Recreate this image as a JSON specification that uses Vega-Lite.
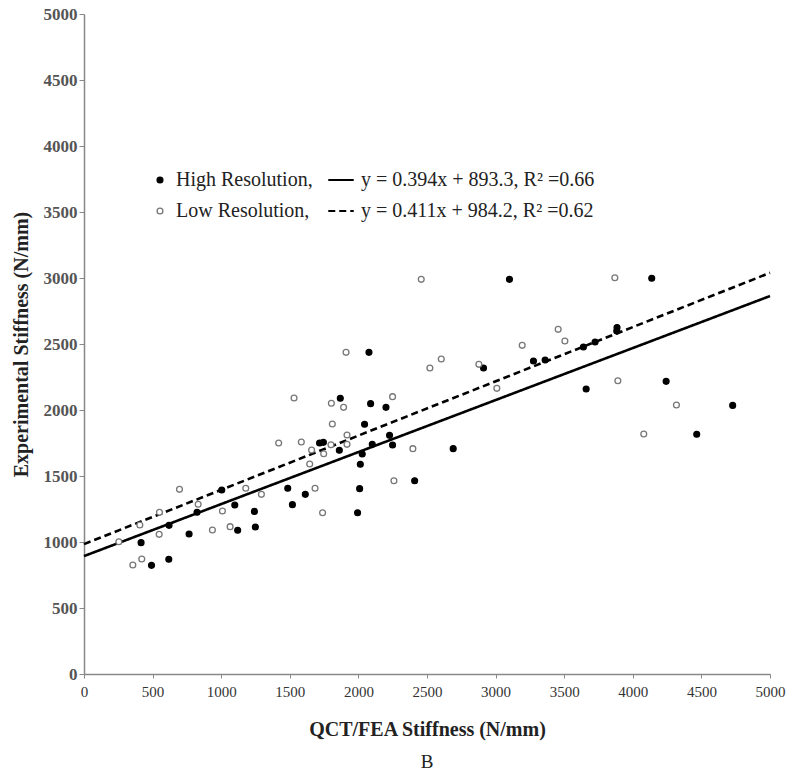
{
  "$schema": "https://vega.github.io/schema/vega-lite/v6.json",
  "width": 686,
  "height": 660,
  "autosize": "none",
  "padding": {"left": 84, "top": 14, "right": 30, "bottom": 104},
  "background": "white",
  "config": {"view": {"stroke": null}, "font": "Liberation Serif"},
  "title": {"text": "B", "orient": "bottom", "anchor": "middle", "font": "Liberation Serif", "fontSize": 19, "fontWeight": "normal", "color": "#222", "offset": 14},
  "datasets": {
    "pts": [
      {"res": "High Resolution,", "qct": 416, "exp": 995},
      {"res": "High Resolution,", "qct": 492, "exp": 823},
      {"res": "High Resolution,", "qct": 618, "exp": 869},
      {"res": "High Resolution,", "qct": 620, "exp": 1126},
      {"res": "High Resolution,", "qct": 766, "exp": 1061},
      {"res": "High Resolution,", "qct": 824, "exp": 1225},
      {"res": "High Resolution,", "qct": 1004, "exp": 1394},
      {"res": "High Resolution,", "qct": 1099, "exp": 1280},
      {"res": "High Resolution,", "qct": 1120, "exp": 1089},
      {"res": "High Resolution,", "qct": 1242, "exp": 1232},
      {"res": "High Resolution,", "qct": 1249, "exp": 1114},
      {"res": "High Resolution,", "qct": 1485, "exp": 1407},
      {"res": "High Resolution,", "qct": 1519, "exp": 1283},
      {"res": "High Resolution,", "qct": 1613, "exp": 1361},
      {"res": "High Resolution,", "qct": 1717, "exp": 1750},
      {"res": "High Resolution,", "qct": 1745, "exp": 1755},
      {"res": "High Resolution,", "qct": 1861, "exp": 1695},
      {"res": "High Resolution,", "qct": 1868, "exp": 2089},
      {"res": "High Resolution,", "qct": 1994, "exp": 1222},
      {"res": "High Resolution,", "qct": 2009, "exp": 1404},
      {"res": "High Resolution,", "qct": 2014, "exp": 1589},
      {"res": "High Resolution,", "qct": 2028, "exp": 1667},
      {"res": "High Resolution,", "qct": 2045, "exp": 1892},
      {"res": "High Resolution,", "qct": 2077, "exp": 2437},
      {"res": "High Resolution,", "qct": 2089, "exp": 2048},
      {"res": "High Resolution,", "qct": 2101, "exp": 1740},
      {"res": "High Resolution,", "qct": 2201, "exp": 2020},
      {"res": "High Resolution,", "qct": 2227, "exp": 1808},
      {"res": "High Resolution,", "qct": 2249, "exp": 1735},
      {"res": "High Resolution,", "qct": 2410, "exp": 1464},
      {"res": "High Resolution,", "qct": 2691, "exp": 1707},
      {"res": "High Resolution,", "qct": 2912, "exp": 2318},
      {"res": "High Resolution,", "qct": 3101, "exp": 2990},
      {"res": "High Resolution,", "qct": 3276, "exp": 2371},
      {"res": "High Resolution,", "qct": 3361, "exp": 2379},
      {"res": "High Resolution,", "qct": 3640, "exp": 2477},
      {"res": "High Resolution,", "qct": 3660, "exp": 2159},
      {"res": "High Resolution,", "qct": 3725, "exp": 2515},
      {"res": "High Resolution,", "qct": 3883, "exp": 2598},
      {"res": "High Resolution,", "qct": 3885, "exp": 2625},
      {"res": "High Resolution,", "qct": 4138, "exp": 2998},
      {"res": "High Resolution,", "qct": 4243, "exp": 2217},
      {"res": "High Resolution,", "qct": 4466, "exp": 1816},
      {"res": "High Resolution,", "qct": 4728, "exp": 2035},
      {"res": "Low Resolution,", "qct": 254, "exp": 1002},
      {"res": "Low Resolution,", "qct": 356, "exp": 826},
      {"res": "Low Resolution,", "qct": 407, "exp": 1129},
      {"res": "Low Resolution,", "qct": 421, "exp": 871},
      {"res": "Low Resolution,", "qct": 548, "exp": 1058},
      {"res": "Low Resolution,", "qct": 550, "exp": 1225},
      {"res": "Low Resolution,", "qct": 696, "exp": 1399},
      {"res": "Low Resolution,", "qct": 832, "exp": 1286},
      {"res": "Low Resolution,", "qct": 936, "exp": 1091},
      {"res": "Low Resolution,", "qct": 1009, "exp": 1235},
      {"res": "Low Resolution,", "qct": 1065, "exp": 1116},
      {"res": "Low Resolution,", "qct": 1179, "exp": 1407},
      {"res": "Low Resolution,", "qct": 1293, "exp": 1361},
      {"res": "Low Resolution,", "qct": 1419, "exp": 1750},
      {"res": "Low Resolution,", "qct": 1531, "exp": 2091},
      {"res": "Low Resolution,", "qct": 1584, "exp": 1758},
      {"res": "Low Resolution,", "qct": 1645, "exp": 1591},
      {"res": "Low Resolution,", "qct": 1659, "exp": 1697},
      {"res": "Low Resolution,", "qct": 1684, "exp": 1407},
      {"res": "Low Resolution,", "qct": 1739, "exp": 1222},
      {"res": "Low Resolution,", "qct": 1747, "exp": 1669},
      {"res": "Low Resolution,", "qct": 1800, "exp": 1737},
      {"res": "Low Resolution,", "qct": 1803, "exp": 2051},
      {"res": "Low Resolution,", "qct": 1810, "exp": 1894},
      {"res": "Low Resolution,", "qct": 1892, "exp": 2020},
      {"res": "Low Resolution,", "qct": 1910, "exp": 2437},
      {"res": "Low Resolution,", "qct": 1917, "exp": 1811},
      {"res": "Low Resolution,", "qct": 1917, "exp": 1740},
      {"res": "Low Resolution,", "qct": 2249, "exp": 2101},
      {"res": "Low Resolution,", "qct": 2259, "exp": 1464},
      {"res": "Low Resolution,", "qct": 2397, "exp": 1707},
      {"res": "Low Resolution,", "qct": 2458, "exp": 2990},
      {"res": "Low Resolution,", "qct": 2521, "exp": 2318},
      {"res": "Low Resolution,", "qct": 2604, "exp": 2386},
      {"res": "Low Resolution,", "qct": 2878, "exp": 2346},
      {"res": "Low Resolution,", "qct": 3009, "exp": 2164},
      {"res": "Low Resolution,", "qct": 3194, "exp": 2490},
      {"res": "Low Resolution,", "qct": 3456, "exp": 2611},
      {"res": "Low Resolution,", "qct": 3505, "exp": 2523},
      {"res": "Low Resolution,", "qct": 3869, "exp": 3002},
      {"res": "Low Resolution,", "qct": 3891, "exp": 2222},
      {"res": "Low Resolution,", "qct": 4080, "exp": 1818},
      {"res": "Low Resolution,", "qct": 4318, "exp": 2038}
    ],
    "fits": [
      {"fit": "y = 0.394x + 893.3, R² =0.66", "qct": 0, "exp": 893.3},
      {"fit": "y = 0.394x + 893.3, R² =0.66", "qct": 5000, "exp": 2863.3},
      {"fit": "y = 0.411x + 984.2, R² =0.62", "qct": 0, "exp": 984.2},
      {"fit": "y = 0.411x + 984.2, R² =0.62", "qct": 5000, "exp": 3039.2}
    ]
  },
  "encoding": {
    "x": {
      "field": "qct", "type": "quantitative",
      "scale": {"domain": [0, 5000], "nice": false, "zero": false},
      "axis": {
        "title": "QCT/FEA Stiffness (N/mm)", "format": "d",
        "values": [0, 500, 1000, 1500, 2000, 2500, 3000, 3500, 4000, 4500, 5000],
        "grid": false, "domainColor": "#888", "domainWidth": 1.5, "tickColor": "#888", "tickSize": 4,
        "labelFont": "Liberation Serif", "labelFontSize": 15, "labelColor": "#333", "labelPadding": 6, "labelFlush": false,
        "titleFont": "Liberation Serif", "titleFontSize": 20, "titleFontWeight": "bold", "titleColor": "#222", "titlePadding": 20
      }
    },
    "y": {
      "field": "exp", "type": "quantitative",
      "scale": {"domain": [0, 5000], "nice": false, "zero": false},
      "axis": {
        "title": "Experimental Stiffness (N/mm)", "format": "d",
        "values": [0, 500, 1000, 1500, 2000, 2500, 3000, 3500, 4000, 4500, 5000],
        "grid": false, "domainColor": "#888", "domainWidth": 1.5, "tickColor": "#888", "tickSize": 5,
        "labelFont": "Liberation Serif", "labelFontSize": 17, "labelFontWeight": "bold", "labelColor": "#555", "labelPadding": 2, "labelFlush": false,
        "titleFont": "Liberation Serif", "titleFontSize": 20, "titleFontWeight": "bold", "titleColor": "#222", "titlePadding": 12
      }
    }
  },
  "layer": [
    {
      "data": {"name": "fits"},
      "mark": {"type": "line", "color": "black", "strokeWidth": 2.6},
      "encoding": {
        "strokeDash": {
          "field": "fit", "type": "nominal",
          "scale": {"domain": ["y = 0.394x + 893.3, R² =0.66", "y = 0.411x + 984.2, R² =0.62"], "range": [[1, 0], [7, 4]]},
          "legend": {
            "title": null, "orient": "none", "legendX": 243, "legendY": 156,
            "symbolType": "stroke", "symbolSize": 650, "symbolStrokeWidth": 2, "symbolStrokeColor": "black",
            "clipHeight": 20,
            "labelFont": "Liberation Serif", "labelFontSize": 20, "labelColor": "#222", "labelOffset": 6,
            "rowPadding": 11, "padding": 0, "labelLimit": 400
          }
        }
      }
    },
    {
      "data": {"name": "pts"},
      "mark": {"type": "point", "shape": "circle", "filled": false, "size": 34, "strokeWidth": 1.3, "opacity": 1},
      "encoding": {
        "fill": {
          "field": "res", "type": "nominal",
          "scale": {"domain": ["High Resolution,", "Low Resolution,"], "range": ["#000000", "#ffffff"]},
          "legend": {
            "title": null, "orient": "none", "legendX": 66, "legendY": 156,
            "symbolSize": 34, "symbolStrokeWidth": 1.3, "clipHeight": 20,
            "labelFont": "Liberation Serif", "labelFontSize": 20, "labelColor": "#222", "labelOffset": 6,
            "rowPadding": 11, "padding": 0, "labelLimit": 300
          }
        },
        "stroke": {
          "field": "res", "type": "nominal",
          "scale": {"domain": ["High Resolution,", "Low Resolution,"], "range": ["#000000", "#777777"]},
          "legend": {
            "title": null, "orient": "none", "legendX": 66, "legendY": 156,
            "symbolSize": 34, "symbolStrokeWidth": 1.3, "clipHeight": 20,
            "labelFont": "Liberation Serif", "labelFontSize": 20, "labelColor": "#222", "labelOffset": 6,
            "rowPadding": 11, "padding": 0, "labelLimit": 300
          }
        }
      }
    }
  ]
}
